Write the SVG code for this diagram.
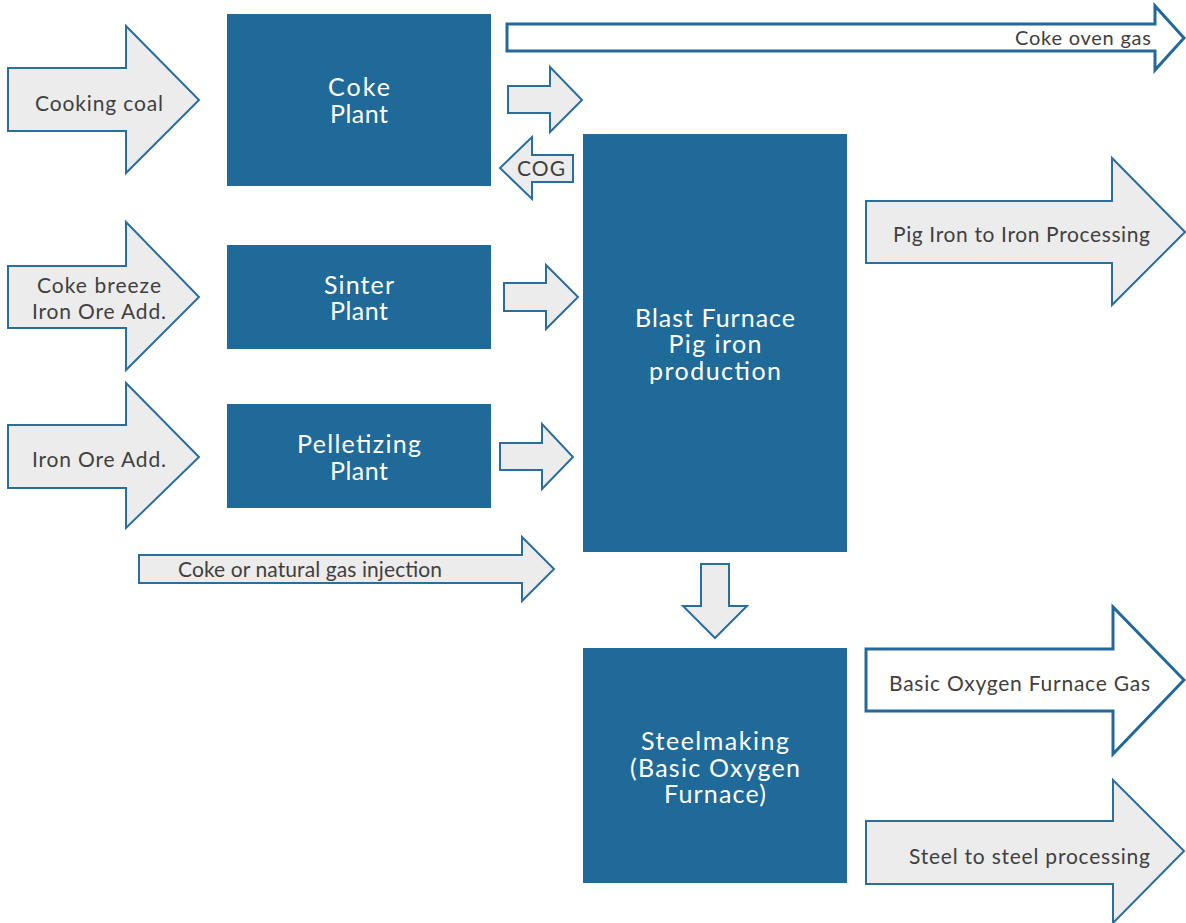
<svg xmlns="http://www.w3.org/2000/svg" width="1186" height="923" viewBox="0 0 1186 923">
<style>
.node{fill:#206a99}
.nt{fill:#ffffff;font-family:Lato,"Noto Sans",sans-serif;font-size:25px;text-anchor:middle}
.arr{fill:#ececec;stroke:#2a6e9e;stroke-width:2;stroke-linejoin:miter}
.arrw{fill:#ffffff;stroke:#24689a;stroke-width:3;stroke-linejoin:miter}
.lab{fill:#404040;font-family:Lato,"Noto Sans",sans-serif;font-size:21px}
</style>
<rect width="1186" height="923" fill="#ffffff"/>
<g id="connectors">
  <g id="a-coking-coal">
    <polygon class="arr" points="8,68 126,68 126,26 199,100 126,173 126,131 8,131"/>
    <text class="lab" x="99" y="111" text-anchor="middle" textLength="128" lengthAdjust="spacing">Cooking coal</text>
  </g>
  <g id="a-coke-breeze">
    <polygon class="arr" points="8,266 126,266 126,222 199,297 126,370 126,328 8,328"/>
    <text class="lab" x="99" y="293" text-anchor="middle" textLength="124" lengthAdjust="spacing">Coke breeze</text>
    <text class="lab" x="99" y="319" text-anchor="middle" textLength="134" lengthAdjust="spacing">Iron Ore Add.</text>
  </g>
  <g id="a-iron-ore">
    <polygon class="arr" points="8,425 126,425 126,383 199,457 126,528 126,488 8,488"/>
    <text class="lab" x="99" y="467" text-anchor="middle" textLength="134" lengthAdjust="spacing">Iron Ore Add.</text>
  </g>
  <g id="a-coke-oven-gas">
    <polygon class="arrw" points="507,24 1155,24 1155,6 1184,38 1155,70 1155,51 507,51"/>
    <text class="lab" x="1151" y="45" text-anchor="end" style="font-size:20px" textLength="136" lengthAdjust="spacing">Coke oven gas</text>
  </g>
  <g id="a-coke-bf">
    <polygon class="arr" points="508,86 550,86 550,67 582,100 550,132 550,113 508,113"/>
  </g>
  <g id="a-cog">
    <polygon class="arr" points="573,155 532,155 532,137 500,168 532,199 532,182 573,182"/>
    <text class="lab" x="541" y="176" text-anchor="middle" textLength="48" lengthAdjust="spacing">COG</text>
  </g>
  <g id="a-sinter-bf">
    <polygon class="arr" points="504,283 546,283 546,265 578,297 546,329 546,311 504,311"/>
  </g>
  <g id="a-pellet-bf">
    <polygon class="arr" points="500,443 542,443 542,424 573,457 542,489 542,470 500,470"/>
  </g>
  <g id="a-injection">
    <polygon class="arr" points="139,555 522,555 522,537 554,569 522,601 522,583 139,583"/>
    <text class="lab" x="178" y="577" textLength="264" lengthAdjust="spacing">Coke or natural gas injection</text>
  </g>
  <g id="a-bf-steel">
    <polygon class="arr" points="701,564 729,564 729,606 747,606 715,638 683,606 701,606"/>
  </g>
  <g id="a-pig-iron">
    <polygon class="arr" points="866,201 1112,201 1112,158 1185,232 1112,305 1112,263 866,263"/>
    <text class="lab" x="1150" y="242" text-anchor="end" textLength="257" lengthAdjust="spacing">Pig Iron to Iron Processing</text>
  </g>
  <g id="a-bof-gas">
    <polygon class="arrw" points="866,649 1113,649 1113,607 1184,680 1113,754 1113,711 866,711"/>
    <text class="lab" x="1150" y="691" text-anchor="end" textLength="261" lengthAdjust="spacing">Basic Oxygen Furnace Gas</text>
  </g>
  <g id="a-steel">
    <polygon class="arr" points="866,821 1113,821 1113,780 1184,851 1113,923 1113,884 866,884"/>
    <text class="lab" x="1150" y="864" text-anchor="end" textLength="241" lengthAdjust="spacing">Steel to steel processing</text>
  </g>
</g>
<g id="coke-plant">
  <rect class="node" x="227" y="14" width="264" height="172"/>
  <text class="nt" x="359" y="96" textLength="62" lengthAdjust="spacing">Coke</text>
  <text class="nt" x="359" y="123" textLength="58" lengthAdjust="spacing">Plant</text>
</g>
<g id="sinter-plant">
  <rect class="node" x="227" y="245" width="264" height="104"/>
  <text class="nt" x="359" y="294" textLength="70" lengthAdjust="spacing">Sinter</text>
  <text class="nt" x="359" y="320" textLength="58" lengthAdjust="spacing">Plant</text>
</g>
<g id="pelletizing-plant">
  <rect class="node" x="227" y="404" width="264" height="104"/>
  <text class="nt" x="359" y="453" textLength="124" lengthAdjust="spacing">Pelletizing</text>
  <text class="nt" x="359" y="480" textLength="58" lengthAdjust="spacing">Plant</text>
</g>
<g id="blast-furnace">
  <rect class="node" x="583" y="134" width="264" height="418"/>
  <text class="nt" x="715" y="327" textLength="160" lengthAdjust="spacing">Blast Furnace</text>
  <text class="nt" x="715" y="353" textLength="93" lengthAdjust="spacing">Pig iron</text>
  <text class="nt" x="715" y="380" textLength="132" lengthAdjust="spacing">production</text>
</g>
<g id="steelmaking">
  <rect class="node" x="583" y="648" width="264" height="235"/>
  <text class="nt" x="715" y="750" textLength="148" lengthAdjust="spacing">Steelmaking</text>
  <text class="nt" x="715" y="777" textLength="170" lengthAdjust="spacing">(Basic Oxygen</text>
  <text class="nt" x="715" y="803" textLength="102" lengthAdjust="spacing">Furnace)</text>
</g>
</svg>
